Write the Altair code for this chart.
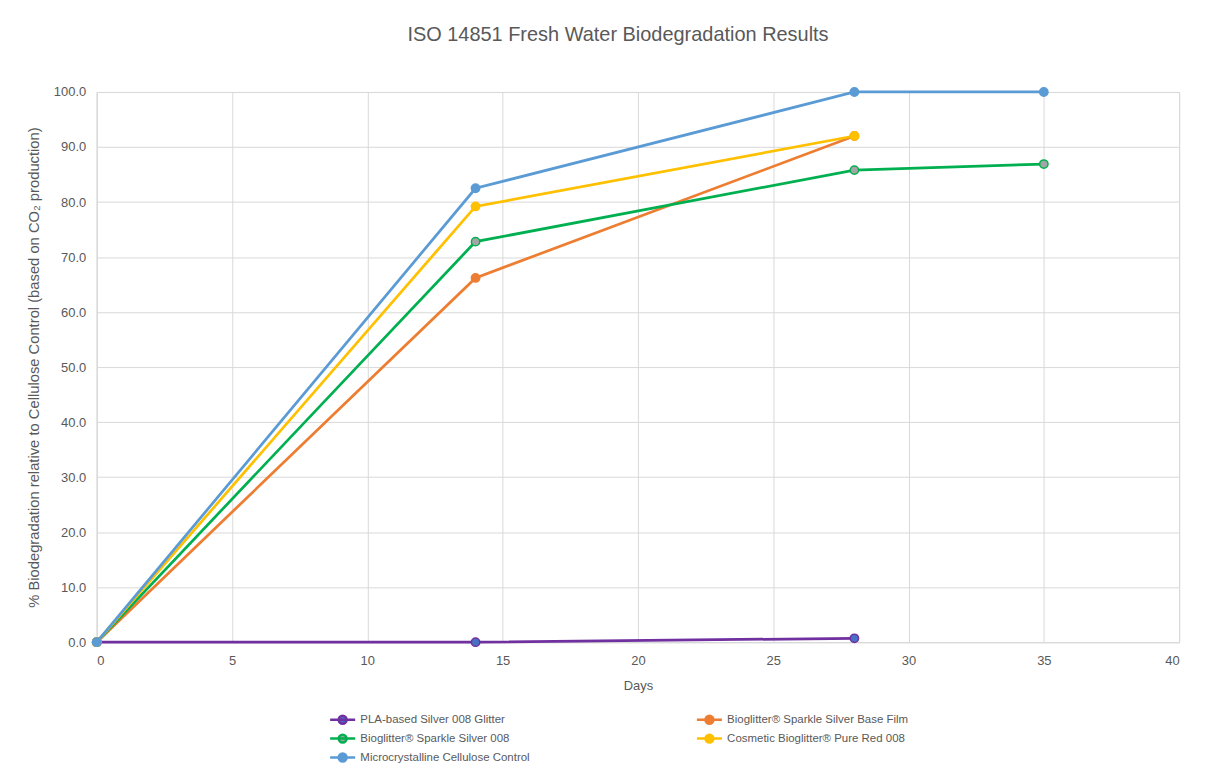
import altair as alt
import pandas as pd

series = [
    "PLA-based Silver 008 Glitter",
    "Bioglitter® Sparkle Silver Base Film",
    "Bioglitter® Sparkle Silver  008",
    "Cosmetic Bioglitter® Pure Red 008",
    "Microcrystalline Cellulose Control",
]
line_colors = ["#7030A0", "#ED7D31", "#00B050", "#FFC000", "#5B9BD5"]
fill_colors = ["#4472C4", "#ED7D31", "#A5A5A5", "#FFC000", "#5B9BD5"]

# legend is filled column by column: this order gives the reference's rows
legend_order = [series[0], series[2], series[4], series[1], series[3]]

pla_days = [0, 14, 28]
pla_vals = [0.0, 0.0, 0.7]
film_days = [0, 14, 28]
film_vals = [0.0, 66.2, 92.0]
sparkle_days = [0, 14, 28, 35]
sparkle_vals = [0.0, 72.8, 85.8, 86.9]
red_days = [0, 14, 28]
red_vals = [0.0, 79.2, 92.0]
cell_days = [0, 14, 28, 35]
cell_vals = [0.0, 82.5, 100.0, 100.0]

rows = []
for name, days, vals in zip(
    series,
    [pla_days, film_days, sparkle_days, red_days, cell_days],
    [pla_vals, film_vals, sparkle_vals, red_vals, cell_vals],
):
    for d, v in zip(days, vals):
        rows.append({"series": name, "day": d, "value": v, "order": series.index(name)})
df = pd.DataFrame(rows)

FONT = "Liberation Sans"
TXT = "#595959"
GRID = "#D9D9D9"

sym_path = "M-3,0H3M-0.95,0A0.95,0.95,0,1,1,0.95,0A0.95,0.95,0,1,1,-0.95,0Z"

legend = alt.Legend(
    title=None,
    orient="none",
    legendX=241,
    legendY=624,
    columns=2,
    columnPadding=162,
    rowPadding=0,
    symbolType=sym_path,
    symbolSize=70,
    symbolStrokeWidth=2.5,
    labelFontSize=11.5,
    labelFont=FONT,
    labelColor=TXT,
    labelOffset=12,
    labelLimit=400,
)

x = alt.X(
    "day:Q",
    scale=alt.Scale(domain=[0, 40], nice=False),
    axis=alt.Axis(
        values=list(range(0, 41, 5)),
        title="Days",
        format="d",
        grid=True,
        gridColor=GRID,
        domainColor=GRID,
        ticks=False,
        labelPadding=12,
        labelFontSize=13,
        labelColor=TXT,
        labelFont=FONT,
        titleFont=FONT,
        titleFontSize=13,
        titleColor=TXT,
        titleFontWeight="normal",
        titlePadding=12,
    ),
)
y = alt.Y(
    "value:Q",
    scale=alt.Scale(domain=[0, 100], nice=False),
    axis=alt.Axis(
        values=list(range(0, 101, 10)),
        format=".1f",
        title="% Biodegradation relative to Cellulose Control (based on CO₂ production)",
        grid=True,
        gridColor=GRID,
        domainColor=GRID,
        ticks=False,
        labelPadding=11,
        labelFontSize=13,
        labelColor=TXT,
        labelFont=FONT,
        titleFont=FONT,
        titleFontSize=14.8,
        titleColor=TXT,
        titleFontWeight="normal",
        titlePadding=12,
    ),
)

stroke_enc = alt.Stroke(
    "series:N",
    scale=alt.Scale(domain=legend_order, range=[line_colors[series.index(s)] for s in legend_order]),
    legend=legend,
    sort=legend_order,
)
fill_enc = alt.Fill(
    "series:N",
    scale=alt.Scale(domain=legend_order, range=[fill_colors[series.index(s)] for s in legend_order]),
    legend=legend,
    sort=legend_order,
)

lines = alt.Chart(df).mark_line(strokeWidth=2.75).encode(
    x=x, y=y, stroke=stroke_enc, detail="series:N", order="day:Q"
)
points = alt.Chart(df).mark_point(
    shape="circle", filled=True, opacity=1, size=70, strokeWidth=1.5
).encode(x=x, y=y, stroke=stroke_enc, fill=fill_enc, order="order:Q")

chart = (
    alt.layer(lines, points)
    .properties(
        width=1086,
        height=552,
        autosize=alt.AutoSizeParams(type="none"),
        padding={"left": 89, "top": 83, "right": 40, "bottom": 130},
        title=alt.TitleParams(
            "ISO 14851 Fresh Water Biodegradation Results",
            font=FONT,
            fontSize=20,
            fontWeight="normal",
            color=TXT,
            anchor="middle",
            frame="group",
            dx=-20,
            offset=40,
        ),
    )
    .configure_view(stroke=None)
    .configure(background="white")
)

chart.save("out.html", embed_options={"renderer": "svg", "actions": False})
